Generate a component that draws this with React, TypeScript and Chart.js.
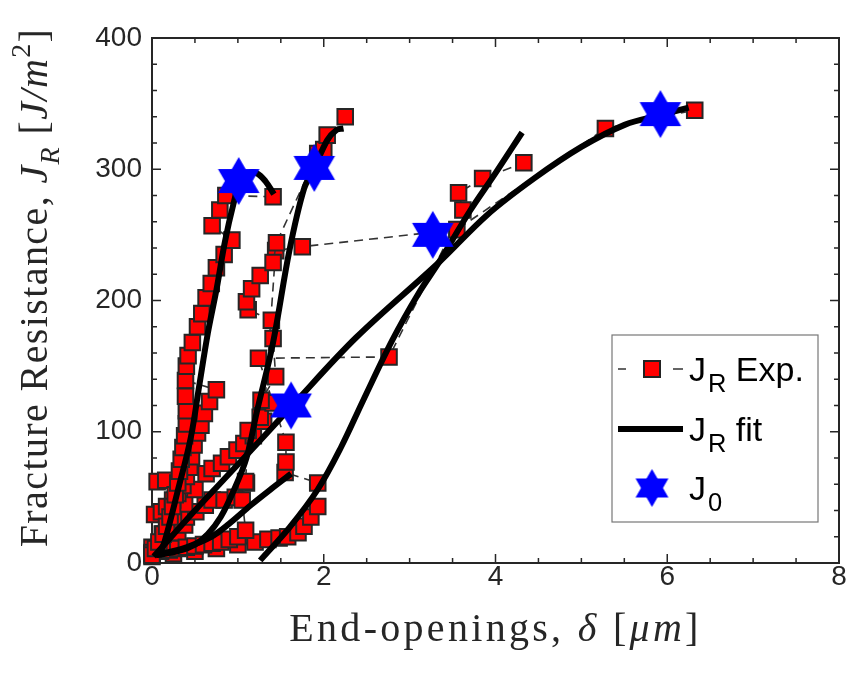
import React, { useEffect, useRef } from "react";
import { Chart, registerables } from "chart.js";

Chart.register(...registerables);

// ---------------- data ----------------
const xTickValues = [0, 2, 4, 6, 8];
const yTickValues = [0, 100, 200, 300, 400];

// experimental J_R points [delta, J_R]
const expA1: number[][] = [
  [0.0, 6], [0.04, 11], [0.08, 16], [0.13, 22], [0.17, 28], [0.21, 35], [0.24, 43], [0.27, 52],
  [0.3, 61], [0.32, 70], [0.34, 79], [0.36, 88], [0.38, 97], [0.4, 106], [0.4, 116], [0.39, 127],
];
const expA2: number[][] = [
  [0.03, 37], [0.11, 39], [0.17, 43], [0.24, 48], [0.3, 53], [0.36, 59], [0.4, 66], [0.44, 73],
  [0.46, 81], [0.49, 90], [0.53, 99], [0.57, 105], [0.61, 114], [0.67, 123], [0.75, 132], [0.39, 139],
  [0.4, 150], [0.42, 158], [0.47, 168], [0.53, 180], [0.58, 190], [0.63, 202], [0.69, 213], [0.75, 225],
  [0.84, 235], [0.93, 246], [0.7, 257], [0.79, 269], [0.86, 280], [1.41, 279],
];
const expA3: number[][] = [[0.06, 62], [0.16, 63]];
const expB: number[][] = [
  [0.0, 8], [0.1, 9], [0.2, 10], [0.3, 11], [0.4, 12], [0.5, 13], [0.6, 14], [0.7, 15], [0.8, 16],
  [0.9, 18], [1.0, 20], [1.09, 25], [1.05, 48], [1.09, 62], [1.12, 101], [1.26, 111], [1.41, 122],
  [1.27, 124], [1.44, 142], [1.41, 171], [1.39, 185], [1.12, 193], [1.1, 199], [1.16, 209], [1.26, 219],
  [1.41, 229], [1.45, 244], [1.93, 312], [2.0, 315], [2.04, 326], [2.25, 340],
];
const expC: number[][] = [
  [0.0, 12], [0.12, 22], [0.25, 33], [0.38, 45], [0.5, 56], [0.63, 68], [0.7, 72], [0.81, 76],
  [0.89, 81], [0.99, 86], [1.07, 91], [1.18, 97], [1.3, 108], [1.44, 238], [1.75, 241], [3.55, 254],
  [5.28, 331], [6.32, 345],
];
const expD: number[][] = [
  [0.0, 5], [0.25, 7], [0.5, 9], [0.75, 11], [1.0, 14], [1.2, 16], [1.35, 18], [1.48, 19], [1.58, 20],
  [1.7, 23], [1.77, 28], [1.85, 35], [1.93, 43], [1.93, 61], [1.55, 69], [1.56, 77], [1.56, 92],
  [1.24, 156], [2.76, 157], [3.62, 269], [3.57, 282], [3.85, 293], [4.33, 305],
];
const expE: number[][] = [
  [0.0, 7], [0.1, 12], [0.2, 17], [0.3, 23], [0.38, 29], [0.4, 35], [0.51, 39], [0.62, 44], [0.7, 48],
  [0.84, 48], [0.97, 50], [1.1, 61],
];

// fitted J_R curves
const fitA: number[][] = [
  [0.08, 5], [0.15, 17], [0.3, 55], [0.45, 95], [0.55, 135], [0.65, 175], [0.75, 208], [0.85, 245],
  [0.95, 274], [1.02, 289], [1.12, 297], [1.22, 297], [1.32, 291], [1.42, 281],
];
const fitB: number[][] = [
  [0.05, 6], [0.3, 9], [0.5, 14], [0.65, 22], [0.8, 35], [0.95, 55], [1.1, 80], [1.22, 115], [1.41, 168],
  [1.6, 238], [1.77, 285], [1.89, 301], [2.04, 322], [2.15, 330], [2.23, 331],
];
const fitC: number[][] = [
  [0.02, 5], [0.5, 40], [1.0, 75], [1.62, 119], [2.38, 172], [3.34, 229], [3.9, 265], [4.45, 293],
  [5.0, 317], [5.51, 334], [5.9, 341], [6.25, 347],
];
const fitD: number[][] = [
  [1.26, 2], [1.6, 27], [1.93, 56], [2.2, 88], [2.46, 124], [2.8, 170], [3.1, 205], [3.34, 229],
  [3.7, 268], [4.0, 297], [4.31, 328],
];
const fitE: number[][] = [
  [0.05, 6], [0.4, 12], [0.69, 20], [0.9, 30], [1.15, 44], [1.4, 57], [1.62, 68],
];

// J_0 points
const starX = [1.01, 1.89, 3.27, 5.92, 1.62];
const starY = [291, 301, 250, 342, 120];

const expSeries = [expA1, expA2, expA3, expB, expC, expD, expE];
const fitSeries = [fitA, fitB, fitC, fitD, fitE];

// ---------------- helpers ----------------
const AX = "#262626";
const SANS = "'Liberation Sans', Arial, sans-serif";
const SERIF = "'Liberation Serif', 'Times New Roman', serif";

function hexagram(R: number, color: string): HTMLCanvasElement {
  const c = document.createElement("canvas");
  const w = Math.ceil(2 * R * Math.cos(Math.PI / 6)) + 2;
  const h = Math.ceil(2 * R) + 2;
  c.width = w;
  c.height = h;
  const g = c.getContext("2d")!;
  g.fillStyle = color;
  const cx = w / 2, cy = h / 2;
  for (const rot of [0, Math.PI]) {
    g.beginPath();
    for (let k = 0; k < 3; k++) {
      const a = rot + (k * 2 * Math.PI) / 3;
      const px = cx + R * Math.sin(a), py = cy - R * Math.cos(a);
      if (k === 0) g.moveTo(px, py); else g.lineTo(px, py);
    }
    g.closePath();
    g.fill();
  }
  return c;
}

type Run = { t: string; it?: boolean; sub?: boolean; sup?: boolean; gap?: number };

function setFont(ctx: CanvasRenderingContext2D, r: Run, size: number, fam: string, ratio: number) {
  const s = r.sub || r.sup ? size * ratio : size;
  ctx.font = `${r.it ? "italic " : ""}${s}px ${fam}`;
}

function runsWidth(ctx: CanvasRenderingContext2D, runs: Run[], size: number, fam: string, ls: number, ratio = 0.7) {
  let w = 0;
  for (const r of runs) {
    setFont(ctx, r, size, fam, ratio);
    for (const ch of r.t) w += ctx.measureText(ch).width + ls;
    w += r.gap || 0;
  }
  return w;
}

function drawRuns(
  ctx: CanvasRenderingContext2D, runs: Run[], x: number, y: number, size: number, fam: string,
  ls: number, ratio = 0.7, subDy = 0.3,
) {
  let cx = x;
  ctx.textBaseline = "alphabetic";
  ctx.textAlign = "left";
  for (const r of runs) {
    setFont(ctx, r, size, fam, ratio);
    const dy = r.sub ? size * subDy : r.sup ? -size * 0.42 : 0;
    cx += r.gap || 0;
    for (const ch of r.t) {
      ctx.fillText(ch, cx, y + dy);
      cx += ctx.measureText(ch).width + ls;
    }
  }
}

const frameTicks = {
  id: "frameTicks",
  beforeDatasetsDraw(chart: any) {
    const { ctx, chartArea: a, scales } = chart;
    const xs = scales.x, ys = scales.y;
    ctx.save();
    ctx.strokeStyle = AX;
    ctx.lineWidth = 1.5;
    ctx.beginPath();
    for (let v = 0; v <= 8.0001; v += 0.5) {
      const px = xs.getPixelForValue(v);
      const L = Math.abs(v % 2) < 1e-6 ? 9 : 5;
      ctx.moveTo(px, a.bottom); ctx.lineTo(px, a.bottom - L);
      ctx.moveTo(px, a.top); ctx.lineTo(px, a.top + L);
    }
    for (let v = 0; v <= 400.001; v += 20) {
      const py = ys.getPixelForValue(v);
      const L = Math.abs(v % 100) < 1e-6 ? 9 : 5;
      ctx.moveTo(a.left, py); ctx.lineTo(a.left + L, py);
      ctx.moveTo(a.right, py); ctx.lineTo(a.right - L, py);
    }
    ctx.stroke();
    ctx.lineWidth = 2;
    ctx.strokeRect(a.left, a.top, a.right - a.left, a.bottom - a.top);
    ctx.restore();
  },
};

const overlay = {
  id: "overlay",
  afterDraw(chart: any) {
    const { ctx, chartArea: a } = chart;
    ctx.save();
    ctx.fillStyle = AX;
    // x title
    const xRuns: Run[] = [{ t: "End-openings, " }, { t: "δ", it: true }, { t: " [" }, { t: "μm", it: true }, { t: "]" }];
    const xs = 40, xls = 3.3;
    const xw = runsWidth(ctx, xRuns, xs, SERIF, xls);
    drawRuns(ctx, xRuns, (a.left + a.right) / 2 - xw / 2, 641, xs, SERIF, xls);
    // y title
    const yRuns: Run[] = [
      { t: "Fracture Resistance, " }, { t: "J", it: true }, { t: "R", it: true, sub: true }, { t: " [" },
      { t: "J/m", it: true }, { t: "2", sup: true }, { t: "]" },
    ];
    const ysz = 40, yls = 1.4;
    const yw = runsWidth(ctx, yRuns, ysz, SERIF, yls);
    ctx.translate(47, (a.top + a.bottom) / 2 - 13);
    ctx.rotate(-Math.PI / 2);
    drawRuns(ctx, yRuns, -yw / 2, 0, ysz, SERIF, yls);
    ctx.restore();

    // legend
    ctx.save();
    const bx = 612, by = 335, bw = 206, bh = 187;
    ctx.fillStyle = "#fff";
    ctx.fillRect(bx, by, bw, bh);
    ctx.strokeStyle = "#777";
    ctx.lineWidth = 1.2;
    ctx.strokeRect(bx, by, bw, bh);
    const r1 = 369, r2 = 429, r3 = 488;
    ctx.strokeStyle = "#333";
    ctx.lineWidth = 1.5;
    ctx.beginPath();
    ctx.moveTo(618, r1); ctx.lineTo(626, r1);
    ctx.moveTo(673, r1); ctx.lineTo(683, r1);
    ctx.stroke();
    ctx.fillStyle = "#f00";
    ctx.fillRect(644, r1 - 8, 16, 16);
    ctx.strokeStyle = "#222";
    ctx.lineWidth = 2;
    ctx.strokeRect(644, r1 - 8, 16, 16);
    ctx.strokeStyle = "#000";
    ctx.lineWidth = 6;
    ctx.beginPath();
    ctx.moveTo(618, r2); ctx.lineTo(683, r2);
    ctx.stroke();
    const st = hexagram(19, "#0000ff");
    ctx.drawImage(st, 652 - st.width / 2, r3 - st.height / 2);
    ctx.fillStyle = "#000";
    const ls = 34;
    drawRuns(ctx, [{ t: "J" }, { t: "R", sub: true, gap: 2 }, { t: " Exp." }], 689, r1 + 12, ls, SANS, 0, 0.75, 0.32);
    drawRuns(ctx, [{ t: "J" }, { t: "R", sub: true, gap: 2 }, { t: " fit" }], 689, r2 + 12, ls, SANS, 0, 0.75, 0.32);
    drawRuns(ctx, [{ t: "J" }, { t: "0", sub: true, gap: 2 }], 689, r3 + 12, ls, SANS, 0, 0.75, 0.32);
    ctx.restore();
  },
};

export default function App() {
  const ref = useRef<HTMLCanvasElement | null>(null);
  useEffect(() => {
    if (!ref.current) return;
    const toPts = (a: number[][]) => a.map(([x, y]) => ({ x, y }));
    const star = hexagram(24, "#0000ff");
    const datasets: any[] = [
      {
        label: "J0",
        data: starX.map((x, i) => ({ x, y: starY[i] })),
        showLine: false,
        pointStyle: star,
        pointRadius: 24,
        order: 0,
        clip: false,
      },
      ...fitSeries.map((f, i) => ({
        label: "fit" + i,
        data: toPts(f),
        showLine: true,
        borderColor: "#000",
        borderWidth: 6,
        pointRadius: 0,
        tension: 0.35,
        order: 1,
        clip: false,
      })),
      ...expSeries.map((e, i) => ({
        label: "exp" + i,
        data: toPts(e),
        showLine: true,
        borderColor: "#333",
        borderWidth: 1.6,
        borderDash: [9, 6],
        pointStyle: "rect",
        pointRadius: 11,
        pointBackgroundColor: "#ff0000",
        pointBorderColor: "#262626",
        pointBorderWidth: 2,
        order: 2,
        clip: false,
      })),
    ];
    const chart = new Chart(ref.current, {
      type: "scatter",
      data: { datasets },
      options: {
        animation: false,
        responsive: false,
        maintainAspectRatio: false,
        events: [],
        layout: { padding: { left: 0, top: 38, right: 14, bottom: 0 } },
        plugins: { legend: { display: false }, tooltip: { enabled: false } },
        scales: {
          x: {
            type: "linear",
            min: 0,
            max: 8,
            afterBuildTicks: (s: any) => { s.ticks = xTickValues.map((v) => ({ value: v })); },
            afterFit: (s: any) => { s.height = 114; },
            ticks: { font: { family: SANS, size: 28 }, color: AX, padding: -3, maxRotation: 0 },
            grid: { display: false, drawTicks: false },
            border: { display: false },
          },
          y: {
            type: "linear",
            min: 0,
            max: 400,
            afterBuildTicks: (s: any) => { s.ticks = yTickValues.map((v) => ({ value: v })); },
            afterFit: (s: any) => { s.width = 152; },
            ticks: { font: { family: SANS, size: 28 }, color: AX, padding: 10 },
            grid: { display: false, drawTicks: false },
            border: { display: false },
          },
        },
      } as any,
      plugins: [frameTicks, overlay],
    });
    return () => chart.destroy();
  }, []);
  return (
    <div style={{ position: "absolute", left: 0, top: 0, width: 864, height: 677, background: "#fff" }}>
      <canvas ref={ref} width={864} height={677} style={{ width: 864, height: 677 }} />
    </div>
  );
}
